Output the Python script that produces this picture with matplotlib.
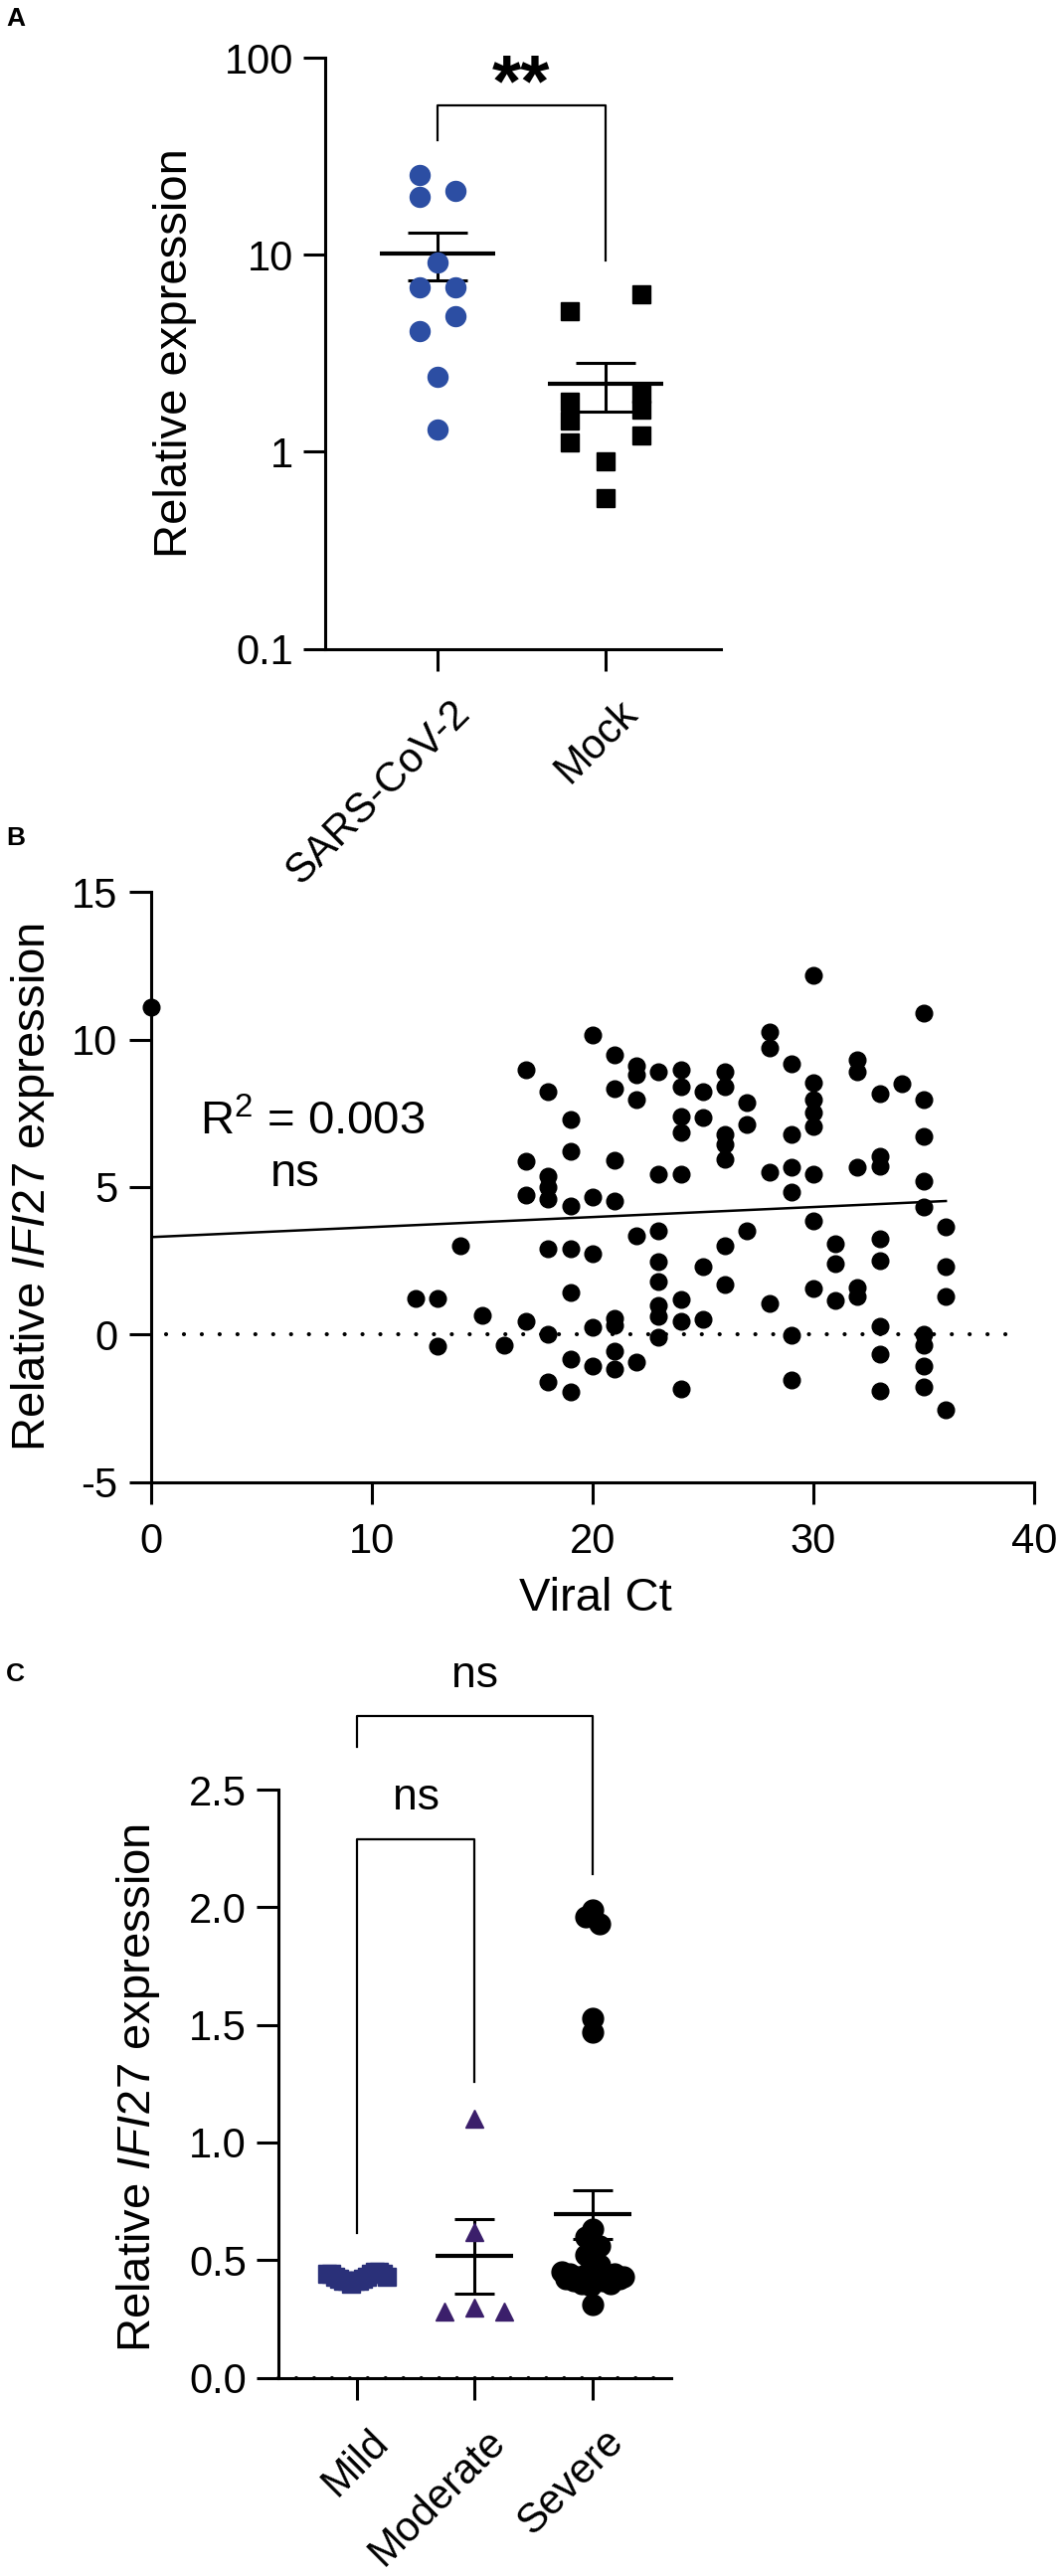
import numpy as np
import matplotlib
matplotlib.use("Agg")
import matplotlib.pyplot as plt
from matplotlib.ticker import NullLocator
from matplotlib.transforms import ScaledTranslation

plt.rcParams['font.family'] = ['Liberation Sans', 'DejaVu Sans']
plt.rcParams['axes.unicode_minus'] = False
plt.rcParams['mathtext.fontset'] = 'custom'
plt.rcParams['mathtext.rm'] = 'Liberation Sans'
plt.rcParams['mathtext.it'] = 'Liberation Sans:italic'

# ---------------- data ----------------
# Panel A: relative expression (log axis)
groups_a = ["SARS-CoV-2", "Mock"]
sars_expr = [25.4, 21.1, 19.6, 9.1, 6.8, 6.8, 4.9, 4.1, 2.4, 1.3]
mock_expr = [6.3, 5.2, 1.97, 1.80, 1.63, 1.44, 1.21, 1.11, 0.89, 0.58]
a_ticks = [0.1, 1, 10, 100]
a_tick_labels = ["0.1", "1", "10", "100"]

# Panel B: IFI27 expression vs viral Ct
viral_ct = [0,
            12,
            13, 13,
            14,
            15,
            16,
            17, 17, 17, 17,
            18, 18, 18, 18, 18, 18, 18,
            19, 19, 19, 19, 19, 19, 19,
            20, 20, 20, 20, 20,
            21, 21, 21, 21, 21, 21, 21, 21,
            22, 22, 22, 22, 22,
            23, 23, 23, 23, 23, 23, 23, 23,
            24, 24, 24, 24, 24, 24, 24, 24,
            25, 25, 25, 25,
            26, 26, 26, 26, 26, 26, 26,
            27, 27, 27,
            28, 28, 28, 28,
            29, 29, 29, 29, 29, 29,
            30, 30, 30, 30, 30, 30, 30, 30,
            31, 31, 31,
            32, 32, 32, 32, 32,
            33, 33, 33, 33, 33, 33, 33, 33,
            34,
            35, 35, 35, 35, 35, 35, 35, 35, 35,
            36, 36, 36, 36]
ifi27_expr = [11.1,
              1.21,
              1.21, -0.40,
              3.02,
              0.66,
              -0.38,
              8.99, 5.88, 4.72, 0.46,
              8.24, 5.38, 4.98, 4.59, 2.91, 0.00, -1.62,
              7.28, 6.22, 4.37, 2.91, 1.43, -0.85, -1.95,
              10.17, 4.65, 2.74, 0.24, -1.06,
              9.47, 8.32, 5.90, 4.53, 0.55, 0.30, -0.55, -1.17,
              9.10, 8.80, 7.96, 3.36, -0.94,
              8.91, 5.43, 3.52, 2.46, 1.78, 0.98, 0.62, -0.10,
              8.97, 8.41, 7.40, 6.84, 5.43, 1.18, 0.46, -1.84,
              8.24, 7.34, 2.29, 0.52,
              8.91, 8.41, 6.78, 6.44, 5.94, 3.02, 1.68,
              7.87, 7.12, 3.52,
              10.26, 9.70, 5.49, 1.05,
              9.19, 6.78, 5.66, 4.82, -0.04, -1.53,
              12.17, 8.52, 7.96, 7.51, 7.06, 5.43, 3.86, 1.55,
              3.08, 2.40, 1.15,
              9.30, 8.91, 5.66, 1.60, 1.30,
              8.18, 6.05, 5.71, 3.24, 2.51, 0.29, -0.66, -1.90,
              8.50,
              10.91, 7.96, 6.72, 5.21, 4.31, 0.00, -0.35, -1.06, -1.79,
              3.66, 2.29, 1.30, -2.54]
b_xticks = [0, 10, 20, 30, 40]
b_yticks = [-5, 0, 5, 10, 15]
fit_intercept = 3.3
fit_slope = 0.034
r_squared = 0.003

# Panel C: IFI27 expression by severity
groups_c = ["Mild", "Moderate", "Severe"]
mild_expr = [0.44, 0.44, 0.43, 0.42, 0.41, 0.41, 0.40, 0.41,
             0.41, 0.42, 0.43, 0.44, 0.45, 0.45, 0.44, 0.43]
moderate_expr = [1.10, 0.62, 0.28, 0.30, 0.28]
severe_expr = [1.99, 1.96, 1.93, 1.53, 1.47, 0.63, 0.60, 0.56, 0.52, 0.48,
               0.45, 0.42, 0.44, 0.41, 0.43, 0.40, 0.44, 0.39,
               0.42, 0.45, 0.41, 0.43, 0.40, 0.44, 0.42, 0.43, 0.31]
c_yticks = [0.0, 0.5, 1.0, 1.5, 2.0, 2.5]

assert len(viral_ct) == len(ifi27_expr)

# ---------------- figure layout ----------------
W, H = 1065, 2591
fig = plt.figure(figsize=(W / 100, H / 100), dpi=100)

BLUE = "#2c4ea3"
NAVY = "#2a3079"
PURPLE = "#3b1f6b"


def box(x0, y_top, x1, y_bot):
    return [x0 / W, 1 - y_bot / H, (x1 - x0) / W, (y_bot - y_top) / H]


def style(ax, pad=7):
    for s in ["top", "right"]:
        ax.spines[s].set_visible(False)
    for s in ["left", "bottom"]:
        ax.spines[s].set_linewidth(2.2)
    ax.tick_params(width=2.2, length=16, labelsize=30, pad=pad, color="black")


def px_per_x(ax):
    x0, x1 = ax.get_xlim()
    return ax.get_position().width * W / (x1 - x0)


def zigzag(vals_px, diam, step):
    # GraphPad-like: overlapping neighbours go alternately left / right
    vals_px = np.asarray(vals_px)
    order = np.argsort(vals_px)
    offs = np.zeros(len(vals_px))
    clusters, cur = [], [order[0]]
    for i in order[1:]:
        if vals_px[i] - vals_px[cur[-1]] < diam:
            cur.append(i)
        else:
            clusters.append(cur)
            cur = [i]
    clusters.append(cur)
    for cl in clusters:
        if len(cl) > 1:
            for k, i in enumerate(cl):
                offs[i] = -step if k % 2 == 0 else step
    return offs


def row_offsets(vals_px, row_h, step, half_max):
    vals_px = np.asarray(vals_px)
    rows = np.floor(vals_px / row_h).astype(int)
    offs = np.zeros(len(vals_px))
    for r in np.unique(rows):
        idx = np.where(rows == r)[0]
        n = len(idx)
        if n > 1:
            s = min(step, 2 * half_max / (n - 1))
            offs[idx] = (np.arange(n) - (n - 1) / 2) * s
    return offs


def mean_sem(ax, xc, vals, half_mean, half_cap, lw_mean=3.0, lw_sem=2.2):
    vals = np.asarray(vals)
    m = vals.mean()
    se = vals.std(ddof=1) / np.sqrt(len(vals))
    kw = dict(color="black", solid_capstyle="butt", zorder=2)
    ax.plot([xc - half_mean, xc + half_mean], [m, m], lw=lw_mean, **kw)
    ax.plot([xc, xc], [m - se, m + se], lw=lw_sem, **kw)
    for yy in (m - se, m + se):
        ax.plot([xc - half_cap, xc + half_cap], [yy, yy], lw=lw_sem, **kw)


def shift_labels(ax, dx_px):
    off = ScaledTranslation(dx_px / 100, 0, fig.dpi_scale_trans)
    for lab in ax.get_xticklabels():
        lab.set_transform(lab.get_transform() + off)


# ---------------- Panel A ----------------
axA = fig.add_axes(box(327, 58, 725, 652.7))
style(axA)
axA.set_yscale("log")
axA.set_ylim(0.1, 100)
axA.set_xlim(-0.6686, 1.6864)
axA.set_yticks(a_ticks)
axA.set_yticklabels(a_tick_labels)
axA.yaxis.set_minor_locator(NullLocator())
axA.set_xticks([0, 1])
axA.set_xticklabels(groups_a, rotation=45, ha="right", va="top", rotation_mode="anchor")
axA.tick_params(axis="x", pad=16)
shift_labels(axA, 12)

ppx = px_per_x(axA)
dec_px = axA.get_position().height * H / 3.0
sars_off = zigzag(np.log10(sars_expr) * dec_px, 20, 18) / ppx
mock_off = zigzag(np.log10(mock_expr) * dec_px, 18, 36) / ppx

mean_sem(axA, 0, sars_expr, 58 / ppx, 30 / ppx)
mean_sem(axA, 1, mock_expr, 58 / ppx, 30 / ppx)
axA.plot(0 + sars_off, sars_expr, "o", ms=14.4, color=BLUE, mec=BLUE, zorder=3)
axA.plot(1 + mock_off, mock_expr, "s", ms=13, color="black", zorder=3)

axA.plot([0, 0, 1, 1], [38, 57, 57, 9.3], color="black", lw=1.6, clip_on=False)
axA.text(0.5, 57, "**", ha="center", va="baseline", fontsize=54, fontweight="bold")
fig.text(176 / W, 1 - 355 / H, "Relative expression", rotation=90,
         ha="center", va="center", fontsize=34)

# ---------------- Panel B ----------------
axB = fig.add_axes(box(151.7, 897.3, 1040, 1490.5))
style(axB, pad=8)
axB.set_xlim(0, 40)
axB.set_ylim(-5, 15)
axB.set_xticks(b_xticks)
axB.set_yticks(b_yticks)
axB.tick_params(axis="x", pad=13)

axB.plot([0.7, 39.2], [0, 0], color="black", lw=3, linestyle=(0, (0.01, 4.3)),
         dash_capstyle="round", zorder=1)
xfit = np.array([min(viral_ct), max(viral_ct)])
axB.plot(xfit, fit_intercept + fit_slope * xfit, color="black", lw=1.8, zorder=2)
axB.plot(viral_ct, ifi27_expr, "o", ms=12, color="black", clip_on=False, zorder=3)

axB.text(7.31, 7.2, "R$^2$ = %.3f" % r_squared, ha="center", va="center", fontsize=34)
axB.text(6.55, 5.42, "ns", ha="center", va="center", fontsize=34)
fig.text(33 / W, 1 - 1194 / H, "Relative $\\mathit{IFI27}$ expression", rotation=90,
         ha="center", va="center", fontsize=34)
fig.text(599 / W, 1 - 1608 / H, "Viral Ct", ha="center", va="center", fontsize=34)

# ---------------- Panel C ----------------
axC = fig.add_axes(box(280, 1800, 675, 2391.5))
style(axC)
axC.set_xlim(-0.6675, 2.670)
axC.set_ylim(0, 2.5)
axC.set_yticks(c_yticks)
axC.set_yticklabels(["%.1f" % t for t in c_yticks])
axC.set_xticks([0, 1, 2])
axC.set_xticklabels(groups_c, rotation=45, ha="right", va="top", rotation_mode="anchor",
                    fontsize=30)
axC.tick_params(axis="x", pad=16)
shift_labels(axC, 11)

ppx_c = px_per_x(axC)
ppy_c = axC.get_position().height * H / 2.5
mild_off = row_offsets(np.array(mild_expr) * ppy_c, 18, 30, 30) / ppx_c
mod_off = row_offsets(np.array(moderate_expr) * ppy_c, 18, 30, 30) / ppx_c
sev_off = row_offsets(np.array(severe_expr) * ppy_c, 18, 14, 31) / ppx_c

axC.plot([-0.6675, 2.670], [0, 0], color="black", lw=3, linestyle=(0, (0.01, 4.3)),
         dash_capstyle="round", clip_on=False, zorder=4)
for xc, vals in zip([0, 1, 2], [mild_expr, moderate_expr, severe_expr]):
    mean_sem(axC, xc, vals, 39 / ppx_c, 20 / ppx_c)
axC.plot(0 + mild_off, mild_expr, "s", ms=13, color=NAVY, mec=NAVY, zorder=3)
axC.plot(1 + mod_off, moderate_expr, "^", ms=13, color=PURPLE, mec=PURPLE, zorder=3)
axC.plot(2 + sev_off, severe_expr, "o", ms=15, color="black", zorder=3)

axC.plot([0, 0, 2, 2], [2.682, 2.813, 2.813, 2.14], color="black", lw=1.6, clip_on=False)
axC.plot([0, 0, 1, 1], [0.617, 2.287, 2.287, 1.256], color="black", lw=1.6, clip_on=False)
axC.text(1, 2.985, "ns", ha="center", va="center", fontsize=32)
axC.text(0.5, 2.465, "ns", ha="center", va="center", fontsize=32)
fig.text(139 / W, 1 - 2100 / H, "Relative $\\mathit{IFI27}$ expression", rotation=90,
         ha="center", va="center", fontsize=34)

# panel letters
for letter, y_base in [("A", 26), ("B", 850), ("C", 1691)]:
    fig.text(6 / W, 1 - y_base / H, letter, fontsize=19, fontweight="bold", va="baseline")

fig.savefig("out.png", dpi=100)
